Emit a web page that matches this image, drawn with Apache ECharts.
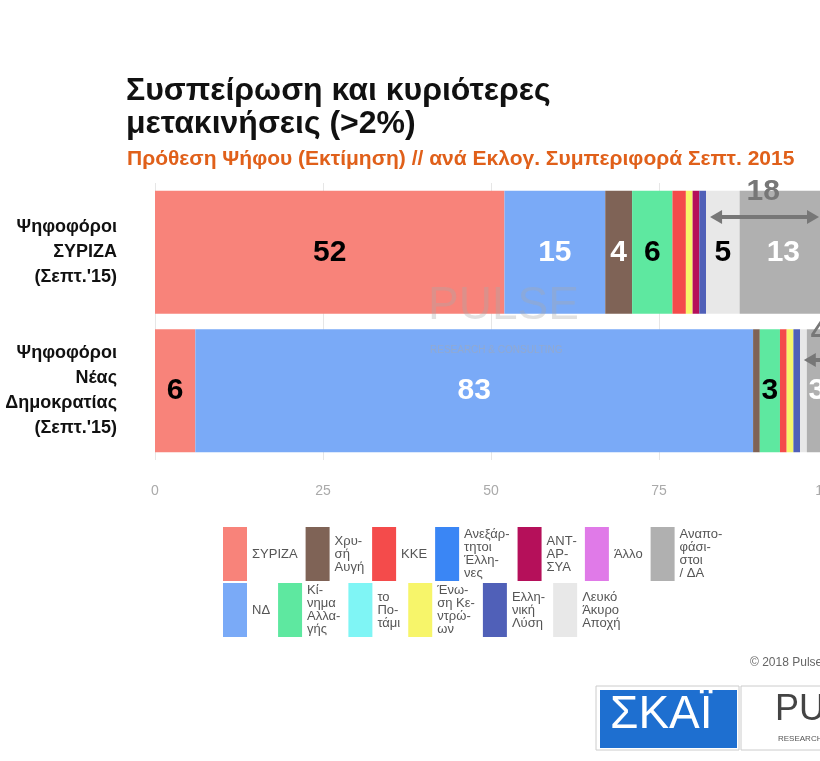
<!DOCTYPE html><html><head><meta charset="utf-8"><script src="https://cdn.jsdelivr.net/npm/echarts@6/dist/echarts.min.js"></script>
<style>body{margin:0}#c{width:820px;height:761px}</style></head><body><div id="c"></div><script>
const categories=["Ψηφοφόροι\nΣΥΡΙΖΑ\n(Σεπτ.'15)","Ψηφοφόροι\nΝέας\nΔημοκρατίας\n(Σεπτ.'15)"];
const parties=["ΣΥΡΙΖΑ","ΝΔ","Χρυσή Αυγή","Κίνημα Αλλαγής","ΚΚΕ","το Ποτάμι","Ανεξάρτητοι Έλληνες","Ένωση Κεντρώων","ΑΝΤΑΡΣΥΑ","Ελληνική Λύση","Άλλο","Λευκό Άκυρο Αποχή","Αναποφάσιστοι / ΔΑ"];
const legendText=["ΣΥΡΙΖΑ","ΝΔ","Χρυ-\nσή\nΑυγή","Κί-\nνημα\nΑλλα-\nγής","ΚΚΕ","το\nΠο-\nτάμι","Ανεξάρ-\nτητοι\nΈλλη-\nνες","Ένω-\nση Κε-\nντρώ-\nων","ΑΝΤ-\nΑΡ-\nΣΥΑ","Ελλη-\nνική\nΛύση","Άλλο","Λευκό\nΆκυρο\nΑποχή","Αναπο-\nφάσι-\nστοι\n/ ΔΑ"];
const colors=["#f8837a","#7aaaf7","#7f6356","#5ee8a0","#f44b4b","#7ff5f5","#3a86f5","#f7f56a","#b5105a","#5060b8","#e07ae8","#e8e8e8","#b0b0b0"];
const labelColors=["#000","#fff","#fff","#000","#000","#000","#fff","#000","#fff","#fff","#000","#000","#fff"];
const valuesSyriza=[52,15,4,6,2,0,0,1,1,1,0,5,13];
const valuesND=[6,83,1,3,1,0,0,1,0,1,0,1,3];
const xTicks=[0,25,50,75,100];
const series=parties.map((p,i)=>({name:p,type:'bar',stack:'a',barWidth:123,
 itemStyle:{color:colors[i]},data:[valuesSyriza[i],valuesND[i]],
 label:{show:true,formatter:q=>q.value>=3?q.value:'',color:labelColors[i],fontSize:30,fontWeight:'bold',fontFamily:'Liberation Sans'}}));
const row1=[0,2,4,6,8,10,12], row2=[1,3,5,7,9,11];
const mkLegend=(idx,top)=>({data:idx.map(i=>parties[i]),left:218,top:top,itemWidth:24,itemHeight:54,itemGap:8,
 icon:'rect',selectedMode:false,formatter:n=>legendText[parties.indexOf(n)],
 textStyle:{fontSize:13,lineHeight:13,color:'#555',fontFamily:'Liberation Sans'}});
const chart=echarts.init(document.getElementById('c'));
chart.setOption({animation:false,color:colors,
 title:[{text:'Συσπείρωση και κυριότερες\nμετακινήσεις (>2%)',left:121,top:70,textStyle:{fontSize:32,fontWeight:'bold',color:'#111',lineHeight:33,fontFamily:'Liberation Sans'}},
  {text:'Πρόθεση Ψήφου (Εκτίμηση) // ανά Εκλογ. Συμπεριφορά Σεπτ. 2015',left:122,top:144,textStyle:{fontSize:21,fontWeight:'bold',color:'#e0601a',fontFamily:'Liberation Sans'}},
  {text:'© 2018 Pulse RC',left:745,top:652,textStyle:{fontSize:12,fontWeight:'normal',color:'#666'}}],
 grid:{left:155,top:183,right:-7,height:277,outerBoundsMode:'none',containLabel:false},
 xAxis:{type:'value',min:0,max:100,interval:25,axisLabel:{color:'#aaa',fontSize:14,margin:24},splitLine:{lineStyle:{color:'#e6e6e6'}}},
 yAxis:{type:'category',inverse:true,data:categories,axisLine:{show:false},axisTick:{show:false},
  axisLabel:{fontSize:18,fontWeight:'bold',color:'#111',align:'right',margin:38,lineHeight:25,fontFamily:'Liberation Sans'}},
 legend:[mkLegend(row1,522),mkLegend(row2,578)],
 series:series});
const p=(x,y)=>chart.convertToPixel({gridIndex:0},[x,y]);
const a1=p(82,0),b1=p(100,0),a2=p(97,1);
const g=[];
const arrow=(x1,x2,y)=>[{type:'line',z:100,shape:{x1:x1+8,y1:y,x2:x2-8,y2:y},style:{stroke:'#777',lineWidth:4}},
 {type:'polygon',z:100,shape:{points:[[x1,y],[x1+12,y-7],[x1+12,y+7]]},style:{fill:'#777'}},
 {type:'polygon',z:100,shape:{points:[[x2,y],[x2-12,y-7],[x2-12,y+7]]},style:{fill:'#777'}}];
g.push(...arrow(a1[0]+4,b1[0]-8,217));
g.push({type:'text',z:100,x:(a1[0]+b1[0])/2-20,y:177,style:{text:'18',fontSize:30,fontWeight:'bold',fill:'#777',fontFamily:'Liberation Sans'}});
g.push({type:'polygon',z:100,shape:{points:[[a2[0]-3,360],[a2[0]+9,353],[a2[0]+9,367]]},style:{fill:'#777'}});
g.push({type:'line',z:100,shape:{x1:a2[0]+8,y1:360,x2:830,y2:360},style:{stroke:'#777',lineWidth:4}});
g.push({type:'text',z:100,x:a2[0]+4,y:318,style:{text:'4',fontSize:30,fontWeight:'bold',fill:'#777'}});
g.push({type:'text',z:100,x:428,y:283,style:{text:'PULSE',fontSize:46,fill:'rgba(170,170,170,0.35)',fontFamily:'Liberation Sans'}});
g.push({type:'text',z:100,x:430,y:345,style:{text:'RESEARCH & CONSULTING',fontSize:10,fill:'rgba(170,170,170,0.5)'}});
g.push({type:'rect',shape:{x:596,y:686,width:143,height:64},style:{fill:'#fff',stroke:'#ccc'}});
g.push({type:'rect',shape:{x:600,y:690,width:137,height:58},style:{fill:'#1e6fd0'}});
g.push({type:'text',x:610,y:692,style:{text:'ΣΚΑΪ',fontSize:46,fill:'#fff',fontFamily:'Liberation Sans'}});
g.push({type:'rect',shape:{x:741,y:686,width:90,height:64},style:{fill:'#fff',stroke:'#ccc'}});
g.push({type:'text',x:775,y:692,style:{text:'PULSE',fontSize:36,fill:'#444'}});
g.push({type:'text',x:778,y:735,style:{text:'RESEARCH',fontSize:8,fill:'#555'}});
chart.setOption({graphic:g});
</script></body></html>
